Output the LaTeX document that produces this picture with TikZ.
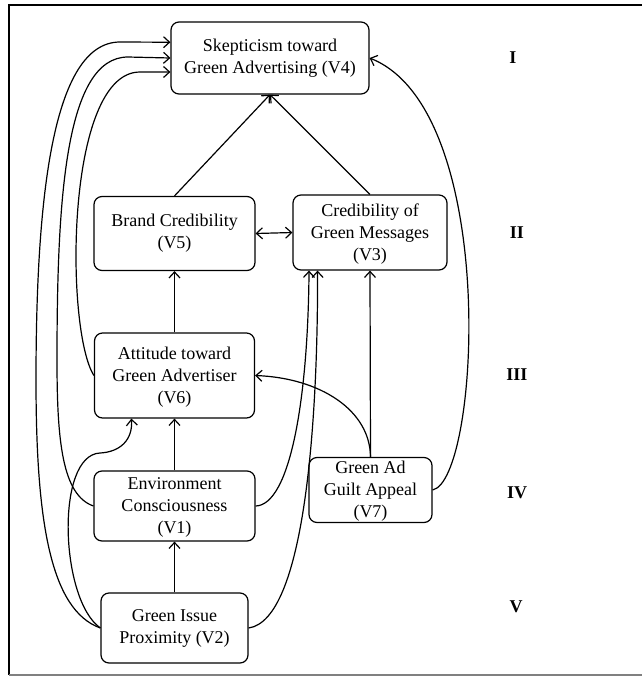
\documentclass[tikz,border=0pt]{standalone}
\usepackage{fontspec}
\setmainfont{Liberation Serif}
\usetikzlibrary{arrows.meta}
\begin{document}
\begin{tikzpicture}
          [x=0.5pt,y=-0.5pt,line width=0.6pt,>={Straight Barb[length=3pt,width=5.5pt]},
           every node/.style={font=\fontsize{9}{11}\selectfont},
           box/.style={draw, rounded corners=4pt, align=center, inner sep=0pt},
           level/.style={font=\fontsize{9}{11}\selectfont\bfseries}]
        \useasboundingbox (0,0) rectangle (642,676);
        \draw[line width=1.2pt] (642,5) -- (9,5) -- (9,675);
        \draw[gray] (9,675) -- (642,675);

        \node[box, minimum width=99pt, minimum height=36pt] (v4) at (270,58) {Skepticism toward\\Green Advertising (V4)};
        \node[box, minimum width=80.5pt, minimum height=37pt] (v5) at (174.5,233.5) {Brand Credibility\\(V5)};
        \node[box, minimum width=77pt, minimum height=37.5pt] (v3) at (370,232.5) {\strut Credibility of\\Green Messages\\(V3)};
        \node[box, minimum width=80pt, minimum height=42.5pt] (v6) at (174.5,375.5) {\strut Attitude toward\\Green Advertiser\\(V6)};
        \node[box, minimum width=80.5pt, minimum height=35pt] (v1) at (174.5,506) {\strut Environment\\Consciousness\\(V1)};
        \node[box, minimum width=61.5pt, minimum height=32.5pt] (v7) at (370.5,490) {\strut Green Ad\\Guilt Appeal\\(V7)};
        \node[box, minimum width=73.5pt, minimum height=35pt] (v2) at (174.5,628) {Green Issue\\Proximity (V2)};

        \node[level] (l1) at (513,58) {I};
        \node[level] (l2) at (517,233) {II};
        \node[level] (l3) at (517,375) {III};
        \node[level] (l4) at (517,493) {IV};
        \node[level] (l5) at (516,607) {V};

        \foreach \from/\to in {v5.north/v4.south, v3.north/v4.south, v6.north/v5.south,
                               v1.north/v6.south, v2.north/v1.south, v7.north/v3.south}
          \draw (\from) edge[->] (\to);
        \draw[<->] (v5.east) -- (v3.west);

        % paths round the left side
        \draw[->] (v2.west) .. controls (50,610) and (36,520) .. (36,380)
                  .. controls (36,200) and (52,42) .. (120,42) -- (v4.171);
        \draw[->] (v1.west) .. controls (62,495) and (57,440) .. (57,360)
                  .. controls (57,200) and (65,57) .. (128,57) -- (v4.west);
        \draw[->] (v6.west) .. controls (65,330) and (65,72) .. (140,72) -- (v4.188);
        \draw[->] (v2.west) .. controls (60,600) and (55,455) .. (100,453)
                  .. controls (120,452) and (133,440) .. (v6.-135);

        % paths round the right side
        \draw[->] (v1.east) .. controls (290,505) and (308,400) .. (v3.212);
        \draw[->] (v2.east) .. controls (305,620) and (318,420) .. (v3.216);
        \draw[->] (v7.north) .. controls (370,410) and (320,378) .. (v6.east);
        \draw[->] (v7.east) .. controls (480,480) and (500,110) .. (v4.east);
\end{tikzpicture}
\end{document}
